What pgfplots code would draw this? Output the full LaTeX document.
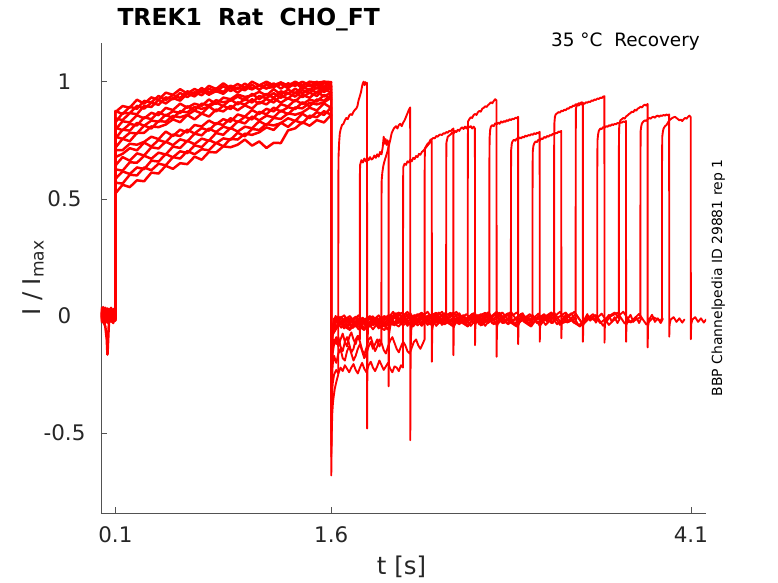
\documentclass[border=0pt]{standalone}
\usepackage{fontspec}
\setmainfont{DejaVu Sans}
\usepackage{pgfplots}
\usepackage{pgfplotstable}
\pgfplotsset{compat=1.18}
\definecolor{axgray}{rgb}{0.15,0.15,0.15}
\pgfplotstableread{
t a b c d e f g h i j k l m n o p
0.000 .010 -.015 .025 .000 -.020 .035 .005 -.010 .020 -.025 .015 -.005 .030 -.018 .008 .002
0.015 -.012 .020 -.005 .030 .010 -.022 .018 .038 -.008 .012 -.028 .025 -.002 .015 -.015 -.020
0.030 .022 -.008 .012 -.018 .035 .005 -.025 .010 .028 -.012 .018 -.030 .008 .032 .000 -.045
0.040 -.005 .015 -.020 .012 -.010 .028 .010 -.015 .002 .030 -.008 .015 -.022 .005 .025 -.100
0.045 .015 -.025 .030 -.005 .020 -.012 .032 .005 -.018 .010 .022 -.010 .012 -.028 .008 -.165
0.055 -.018 .010 .005 .025 -.022 .018 -.008 .030 .012 -.020 .002 .028 -.012 .018 -.025 -.030
0.070 .028 -.012 .018 -.025 .012 -.005 .022 -.018 .035 .005 -.020 .010 .025 -.008 .015 .020
0.085 -.008 .030 -.015 .010 .025 -.030 .005 .015 -.010 .022 .012 -.025 .000 .028 -.012 -.008
0.0995 .012 -.010 .022 -.012 .000 .015 -.020 .008 .025 -.015 .030 .005 -.018 .010 .020 .000
0.10 .870 .875 .826 .843 .795 .804 .757 .765 .718 .708 .678 .642 .626 .585 .569 .523
0.15 .896 .862 .866 .836 .831 .793 .795 .756 .756 .708 .692 .678 .620 .617 .565 .560
0.20 .889 .893 .866 .866 .826 .820 .791 .782 .746 .735 .716 .663 .656 .606 .603 .550
0.25 .923 .884 .897 .861 .857 .813 .824 .779 .781 .731 .707 .694 .654 .634 .600 .579
0.30 .906 .918 .885 .897 .843 .848 .812 .813 .782 .743 .740 .685 .684 .627 .634 .575
0.35 .933 .912 .910 .892 .867 .840 .834 .800 .809 .765 .723 .720 .671 .663 .622 .612
0.40 .922 .939 .901 .922 .857 .870 .829 .832 .806 .755 .751 .715 .697 .659 .650 .608
0.45 .953 .922 .933 .907 .888 .854 .859 .829 .817 .787 .741 .744 .689 .691 .643 .641
0.50 .944 .943 .925 .930 .879 .874 .844 .854 .839 .768 .774 .729 .723 .677 .678 .628
0.55 .968 .930 .952 .919 .906 .866 .874 .848 .827 .795 .768 .754 .717 .703 .672 .652
0.60 .949 .959 .934 .949 .889 .895 .869 .858 .858 .783 .795 .745 .748 .695 .704 .648
0.65 .969 .948 .955 .937 .906 .878 .892 .877 .839 .815 .779 .778 .733 .728 .690 .680
0.70 .954 .973 .942 .963 .897 .906 .884 .864 .864 .809 .802 .771 .757 .721 .712 .667
0.75 .982 .953 .970 .944 .924 .899 .893 .894 .851 .834 .791 .800 .748 .751 .707 .700
0.80 .969 .971 .957 .960 .905 .921 .911 .873 .881 .818 .823 .785 .781 .737 .739 .698
0.85 .993 .956 .981 .948 .932 .912 .896 .897 .873 .840 .815 .808 .773 .758 .724 .724
0.90 .972 .983 .960 .974 .925 .919 .925 .883 .897 .829 .844 .799 .803 .752 .756 .720
0.95 .990 .969 .975 .953 .945 .936 .903 .912 .878 .860 .827 .831 .787 .782 .753 .731
1.00 .974 .992 .963 .977 .935 .921 .926 .902 .899 .851 .850 .822 .808 .767 .778 .753
1.05 1.0 .970 .987 .967 .941 .948 .911 .925 .885 .879 .839 .851 .801 .798 .773 .727
1.10 .984 .983 .965 .985 .957 .925 .939 .906 .914 .862 .871 .835 .831 .794 .784 .745
1.15 1.0 .970 .989 .973 .941 .948 .929 .926 .903 .884 .861 .855 .815 .819 .805 .717
1.20 .984 .993 .978 .977 .968 .931 .951 .911 .929 .873 .889 .848 .845 .813 .794 .739
1.25 .997 .970 .995 .990 .945 .959 .931 .940 .910 .904 .872 .877 .841 .823 .825 .738
1.30 .983 .993 .983 .972 .966 .948 .951 .928 .929 .894 .891 .861 .865 .844 .807 .792
1.35 1.0 .982 .986 .996 .950 .970 .936 .954 .916 .922 .883 .890 .859 .832 .834 .801
1.40 .983 .999 .999 .970 .977 .950 .964 .934 .944 .904 .912 .886 .869 .863 .822 .827
1.45 1.0 .986 .980 .989 .965 .968 .952 .953 .931 .923 .895 .910 .889 .844 .855 .812
1.50 .995 .989 1.0 .970 .987 .953 .976 .939 .957 .915 .924 .903 .877 .870 .848 .836
1.55 1.0 1.0 .977 .994 .966 .980 .956 .967 .937 .943 .919 .912 .907 .858 .874 .826
1.60 .998 .982 .996 .980 .984 .968 .975 .954 .953 .926 .942 .932 .888 .890 .859 .859
}\first
\begin{document}
\begin{tikzpicture}
\path[use as bounding box] (-101bp,-70bp) rectangle (677bp,513bp);
\begin{axis}[
  name=ax,
  at={(0,0)}, anchor=south west,
  scale only axis, width=605bp, height=470bp,
  xmin=0, xmax=4.205, ymin=-0.8406, ymax=1.165,
  axis x line*=bottom, axis y line*=left,
  axis line style={-, draw=axgray!80, line width=0.6bp},
  tick style={draw=axgray!80, line width=0.6bp},
  tick align=inside, major tick length=6bp,
  xtick={0.1,1.6,4.1}, xticklabels={0.1,1.6,4.1},
  ytick={-0.5,0,0.5,1}, yticklabels={-0.5,0,0.5,1},
  tick label style={font=\fontsize{21.5}{24}\selectfont, text=axgray},
  xticklabel style={anchor=base, yshift=-29bp},
  yticklabel style={anchor=center, xshift=-36.5bp},
  xlabel={t [s]},
  xlabel style={at={(axis description cs:0.4967,0)}, anchor=base, yshift=-61bp, font=\fontsize{24.5}{28}\selectfont, text=axgray},
  ylabel={I / I\textsubscript{max}},
  ylabel style={at={(axis description cs:-0.1008,0.5)}, anchor=base, font=\fontsize{24.5}{28}\selectfont, text=axgray},
  tr/.style={draw=red, line width=1.9pt, line join=round, line cap=round, no markers},
  tf/.style={draw=red, line width=2.5pt, line join=round, line cap=round, no markers},
]
\addplot[tf] table[x=t,y=a]{\first};
\addplot[tf] table[x=t,y=b]{\first};
\addplot[tf] table[x=t,y=c]{\first};
\addplot[tf] table[x=t,y=d]{\first};
\addplot[tf] table[x=t,y=e]{\first};
\addplot[tf] table[x=t,y=f]{\first};
\addplot[tf] table[x=t,y=g]{\first};
\addplot[tf] table[x=t,y=h]{\first};
\addplot[tf] table[x=t,y=i]{\first};
\addplot[tf] table[x=t,y=j]{\first};
\addplot[tf] table[x=t,y=k]{\first};
\addplot[tf] table[x=t,y=l]{\first};
\addplot[tf] table[x=t,y=m]{\first};
\addplot[tf] table[x=t,y=n]{\first};
\addplot[tf] table[x=t,y=o]{\first};
\addplot[tf] table[x=t,y=p]{\first};
% A
\addplot[tr] coordinates {(1.6,0.998)(1.6005,-0.68)(1.603,-0.52)(1.607,-0.42)(1.612,-0.37)(1.618,-0.34)(1.625,-0.31)(1.632,-0.29)(1.64,-0.27)(1.649,-0.25)(1.6495,0.55)(1.651,0.68)(1.655,0.74)(1.66,0.78)(1.667,0.80)(1.675,0.815)(1.685,0.82)(1.695,0.835)(1.705,0.845)(1.715,0.84)(1.725,0.855)(1.735,0.862)(1.745,0.858)(1.755,0.872)(1.765,0.88)(1.775,0.886)(1.782,0.895)(1.79,0.92)(1.80,0.94)(1.807,0.955)(1.813,0.975)(1.818,0.99)(1.825,1.0)(1.832,0.985)(1.838,0.998)(1.843,0.99)(1.849,0.995)(1.8495,-0.48)(1.852,-0.12)(1.856,-0.05)(1.865,-0.035)(1.88,-0.01)(1.895,-0.04)(1.91,-0.015)(1.925,-0.03)(1.94,-0.005)(1.955,-0.025)};
% B
\addplot[tr] coordinates {(1.6,0.982)(1.6005,-0.45)(1.604,-0.25)(1.61,-0.16)(1.62,-0.12)(1.635,-0.09)(1.65,-0.13)(1.665,-0.10)(1.68,-0.075)(1.695,-0.11)(1.71,-0.13)(1.725,-0.09)(1.74,-0.07)(1.755,-0.10)(1.77,-0.12)(1.785,-0.085)(1.799,-0.10)(1.7995,0.60)(1.801,0.645)(1.81,0.665)(1.82,0.655)(1.83,0.672)(1.84,0.66)(1.85,0.675)(1.86,0.665)(1.87,0.678)(1.88,0.668)(1.89,0.672)(1.90,0.685)(1.91,0.675)(1.92,0.69)(1.93,0.68)(1.94,0.70)(1.95,0.69)(1.958,0.72)(1.965,0.765)(1.972,0.735)(1.978,0.755)(1.985,0.73)(1.992,0.75)(1.999,0.73)(1.9995,-0.30)(2.002,-0.08)(2.01,-0.045)(2.025,-0.02)(2.04,-0.04)(2.055,-0.01)(2.07,-0.03)(2.085,-0.015)(2.10,-0.03)(2.105,-0.02)};
% C
\addplot[tr] coordinates {(1.6,0.996)(1.6005,-0.55)(1.604,-0.30)(1.61,-0.21)(1.62,-0.17)(1.635,-0.20)(1.65,-0.16)(1.665,-0.14)(1.68,-0.18)(1.695,-0.19)(1.71,-0.15)(1.725,-0.13)(1.74,-0.16)(1.755,-0.19)(1.77,-0.17)(1.785,-0.14)(1.80,-0.12)(1.815,-0.15)(1.83,-0.18)(1.845,-0.16)(1.86,-0.13)(1.875,-0.11)(1.89,-0.14)(1.905,-0.12)(1.92,-0.10)(1.935,-0.13)(1.949,-0.11)(1.9495,0.50)(1.951,0.58)(1.955,0.61)(1.962,0.64)(1.97,0.66)(1.98,0.68)(1.99,0.70)(2.0,0.725)(2.01,0.75)(2.02,0.78)(2.035,0.80)(2.05,0.81)(2.06,0.80)(2.07,0.815)(2.08,0.82)(2.09,0.81)(2.10,0.825)(2.11,0.835)(2.12,0.85)(2.13,0.865)(2.14,0.88)(2.149,0.89)(2.1495,-0.53)(2.152,-0.15)(2.156,-0.06)(2.165,-0.03)(2.18,-0.01)(2.195,-0.035)(2.21,-0.015)(2.225,-0.04)(2.24,-0.02)(2.255,-0.01)};
% D
\addplot[tr] coordinates {(1.6,0.98)(1.6005,-0.60)(1.604,-0.38)(1.61,-0.29)(1.62,-0.25)(1.635,-0.23)(1.65,-0.245)(1.665,-0.22)(1.68,-0.235)(1.695,-0.21)(1.71,-0.225)(1.725,-0.24)(1.74,-0.22)(1.755,-0.205)(1.77,-0.23)(1.785,-0.245)(1.80,-0.22)(1.815,-0.20)(1.83,-0.225)(1.845,-0.24)(1.86,-0.21)(1.875,-0.195)(1.89,-0.22)(1.905,-0.235)(1.92,-0.215)(1.935,-0.19)(1.95,-0.21)(1.965,-0.23)(1.98,-0.215)(1.995,-0.20)(2.01,-0.225)(2.025,-0.24)(2.04,-0.215)(2.055,-0.22)(2.07,-0.235)(2.085,-0.21)(2.099,-0.22)(2.0995,0.55)(2.101,0.635)(2.11,0.65)(2.12,0.645)(2.13,0.66)(2.14,0.655)(2.15,0.668)(2.16,0.66)(2.17,0.675)(2.18,0.67)(2.19,0.683)(2.20,0.678)(2.21,0.692)(2.22,0.688)(2.23,0.70)(2.24,0.705)(2.25,0.712)(2.26,0.72)(2.27,0.728)(2.28,0.735)(2.29,0.745)(2.299,0.748)(2.2995,-0.195)(2.302,-0.06)(2.31,-0.03)(2.325,-0.01)(2.34,-0.035)(2.355,-0.015)(2.37,-0.03)(2.385,-0.005)(2.40,-0.025)(2.405,-0.02)};
% E
\addplot[tr] coordinates {(1.6,0.984)(1.6005,-0.40)(1.604,-0.22)(1.61,-0.14)(1.62,-0.10)(1.635,-0.12)(1.65,-0.09)(1.665,-0.13)(1.68,-0.15)(1.695,-0.11)(1.71,-0.09)(1.725,-0.12)(1.74,-0.155)(1.755,-0.14)(1.77,-0.10)(1.785,-0.085)(1.80,-0.11)(1.815,-0.145)(1.83,-0.165)(1.845,-0.135)(1.86,-0.10)(1.875,-0.09)(1.89,-0.12)(1.905,-0.15)(1.92,-0.13)(1.935,-0.10)(1.95,-0.115)(1.965,-0.145)(1.98,-0.16)(1.995,-0.13)(2.01,-0.105)(2.025,-0.09)(2.04,-0.115)(2.055,-0.14)(2.07,-0.155)(2.085,-0.13)(2.10,-0.11)(2.115,-0.125)(2.13,-0.15)(2.145,-0.16)(2.16,-0.135)(2.175,-0.11)(2.19,-0.10)(2.205,-0.125)(2.22,-0.14)(2.235,-0.12)(2.249,-0.10)(2.2495,0.60)(2.251,0.715)(2.26,0.725)(2.27,0.735)(2.28,0.74)(2.29,0.752)(2.30,0.755)(2.31,0.76)(2.32,0.758)(2.33,0.768)(2.34,0.765)(2.35,0.772)(2.36,0.775)(2.37,0.772)(2.38,0.78)(2.39,0.778)(2.40,0.785)(2.41,0.782)(2.42,0.79)(2.43,0.788)(2.44,0.795)(2.449,0.80)(2.4495,-0.167)(2.452,-0.05)(2.46,-0.025)(2.475,-0.01)(2.49,-0.03)(2.505,-0.005)(2.52,-0.025)(2.535,-0.015)(2.55,-0.02)(2.555,-0.01)};
% F
\addplot[tr] coordinates {(1.6,0.968)(1.6005,-0.35)(1.604,-0.15)(1.61,-0.07)(1.62,-0.055)(1.67,-0.030)(1.72,-0.007)(1.77,-0.045)(1.82,-0.020)(1.87,0.000)(1.92,-0.040)(1.97,-0.060)(2.02,0.000)(2.07,-0.018)(2.12,0.010)(2.17,-0.038)(2.22,-0.008)(2.27,0.018)(2.32,-0.028)(2.37,-0.012)(2.399,-0.02)(2.3995,0.65)(2.401,0.74)(2.41,0.765)(2.42,0.77)(2.43,0.775)(2.44,0.782)(2.45,0.778)(2.46,0.79)(2.47,0.785)(2.48,0.795)(2.49,0.79)(2.50,0.80)(2.51,0.805)(2.52,0.798)(2.53,0.808)(2.54,0.80)(2.55,0.812)(2.56,0.805)(2.57,0.81)(2.58,0.80)(2.59,0.808)(2.599,0.80)(2.5995,-0.124)(2.602,-0.04)(2.61,-0.02)(2.63,0.005)(2.65,-0.03)(2.67,-0.01)(2.69,-0.025)(2.705,-0.005)};
% G
\addplot[tr] coordinates {(1.6,0.975)(1.6005,-0.50)(1.604,-0.2)(1.61,-0.08)(1.63,-0.060)(1.68,-0.015)(1.73,-0.033)(1.78,-0.005)(1.83,-0.053)(1.88,-0.023)(1.93,0.003)(1.98,-0.043)(2.03,-0.012)(2.08,0.004)(2.13,-0.042)(2.18,-0.002)(2.23,0.014)(2.28,-0.032)(2.33,-0.020)(2.38,0.009)(2.43,-0.036)(2.48,-0.006)(2.53,-0.020)(2.549,-0.01)(2.5495,0.70)(2.551,0.83)(2.56,0.84)(2.57,0.848)(2.58,0.845)(2.59,0.858)(2.60,0.862)(2.61,0.858)(2.62,0.87)(2.63,0.875)(2.64,0.872)(2.65,0.885)(2.66,0.888)(2.67,0.895)(2.68,0.892)(2.69,0.90)(2.70,0.905)(2.71,0.912)(2.72,0.908)(2.73,0.918)(2.74,0.925)(2.749,0.92)(2.7495,-0.174)(2.752,-0.05)(2.76,-0.02)(2.78,-0.005)(2.80,-0.03)(2.82,-0.01)(2.84,-0.025)(2.855,-0.005)};
% H
\addplot[tr] coordinates {(1.6,0.954)(1.6005,-0.30)(1.604,-0.12)(1.61,-0.06)(1.64,-0.043)(1.69,-0.027)(1.74,-0.011)(1.79,-0.057)(1.84,-0.017)(1.89,-0.001)(1.94,-0.047)(1.99,-0.035)(2.04,0.009)(2.09,-0.036)(2.14,-0.006)(2.19,-0.020)(2.24,0.005)(2.29,-0.035)(2.34,-0.010)(2.39,0.012)(2.44,-0.040)(2.49,-0.015)(2.54,0.008)(2.59,-0.030)(2.64,-0.005)(2.69,0.015)(2.699,-0.01)(2.6995,0.65)(2.701,0.76)(2.705,0.795)(2.71,0.808)(2.72,0.815)(2.73,0.81)(2.74,0.822)(2.75,0.818)(2.76,0.825)(2.77,0.82)(2.78,0.83)(2.79,0.825)(2.80,0.832)(2.81,0.828)(2.82,0.836)(2.83,0.832)(2.84,0.84)(2.85,0.836)(2.86,0.842)(2.87,0.84)(2.88,0.846)(2.89,0.844)(2.899,0.85)(2.8995,-0.12)(2.902,-0.04)(2.91,-0.015)(2.93,0.005)(2.95,-0.025)(2.97,-0.01)(2.99,-0.03)(3.005,-0.01)};
% I
\addplot[tr] coordinates {(1.6,0.953)(1.6005,-0.25)(1.604,-0.10)(1.61,-0.05)(1.65,-0.035)(1.70,-0.006)(1.75,-0.051)(1.80,-0.021)(1.85,-0.035)(1.90,-0.010)(1.95,-0.050)(2.00,-0.010)(2.05,0.012)(2.10,-0.040)(2.15,-0.015)(2.20,0.008)(2.25,-0.030)(2.30,-0.005)(2.35,0.015)(2.40,-0.025)(2.45,-0.045)(2.50,0.000)(2.55,-0.018)(2.60,0.010)(2.65,-0.038)(2.70,-0.008)(2.75,0.018)(2.80,-0.028)(2.849,-0.01)(2.8495,0.60)(2.851,0.71)(2.855,0.735)(2.86,0.745)(2.87,0.752)(2.88,0.748)(2.89,0.758)(2.90,0.755)(2.91,0.762)(2.92,0.758)(2.93,0.765)(2.94,0.762)(2.95,0.77)(2.96,0.766)(2.97,0.772)(2.98,0.77)(2.99,0.776)(3.00,0.773)(3.01,0.78)(3.02,0.776)(3.03,0.782)(3.04,0.78)(3.049,0.786)(3.0495,-0.11)(3.052,-0.04)(3.06,-0.015)(3.08,0.005)(3.10,-0.025)(3.12,-0.005)(3.14,-0.03)(3.155,-0.01)};
% J
\addplot[tr] coordinates {(1.6,0.926)(1.6005,-0.30)(1.604,-0.12)(1.61,-0.06)(1.62,-0.025)(1.67,-0.003)(1.72,-0.055)(1.77,-0.030)(1.82,-0.007)(1.87,-0.045)(1.92,-0.020)(1.97,0.000)(2.02,-0.025)(2.07,-0.045)(2.12,0.000)(2.17,-0.018)(2.22,0.010)(2.27,-0.038)(2.32,-0.008)(2.37,0.018)(2.42,-0.028)(2.47,-0.012)(2.52,0.004)(2.57,-0.042)(2.62,-0.002)(2.67,0.014)(2.72,-0.032)(2.77,-0.020)(2.82,0.009)(2.87,-0.036)(2.92,-0.006)(2.97,-0.020)(2.999,-0.005)(2.9995,0.60)(3.001,0.70)(3.005,0.725)(3.01,0.735)(3.02,0.745)(3.03,0.742)(3.04,0.752)(3.05,0.748)(3.06,0.758)(3.07,0.755)(3.08,0.764)(3.09,0.76)(3.10,0.768)(3.11,0.765)(3.12,0.772)(3.13,0.77)(3.14,0.778)(3.15,0.775)(3.16,0.782)(3.17,0.78)(3.18,0.787)(3.19,0.785)(3.199,0.79)(3.1995,-0.095)(3.202,-0.035)(3.21,-0.015)(3.23,0.005)(3.25,-0.025)(3.27,-0.01)(3.29,-0.03)(3.305,-0.01)};
% K
\addplot[tr] coordinates {(1.6,0.942)(1.6005,-0.20)(1.604,-0.09)(1.61,-0.05)(1.63,0.000)(1.68,-0.040)(1.73,-0.060)(1.78,-0.015)(1.83,-0.033)(1.88,-0.005)(1.93,-0.053)(1.98,-0.023)(2.03,0.018)(2.08,-0.028)(2.13,-0.012)(2.18,0.004)(2.23,-0.042)(2.28,-0.002)(2.33,0.014)(2.38,-0.032)(2.43,-0.020)(2.48,0.009)(2.53,-0.036)(2.58,-0.006)(2.63,-0.020)(2.68,0.005)(2.73,-0.035)(2.78,-0.010)(2.83,0.012)(2.88,-0.040)(2.93,-0.015)(2.98,0.008)(3.03,-0.030)(3.08,-0.005)(3.13,0.015)(3.149,-0.01)(3.1495,0.70)(3.151,0.82)(3.155,0.85)(3.16,0.86)(3.17,0.865)(3.18,0.87)(3.19,0.868)(3.20,0.876)(3.21,0.874)(3.22,0.88)(3.23,0.878)(3.24,0.886)(3.25,0.884)(3.26,0.892)(3.27,0.89)(3.28,0.898)(3.29,0.896)(3.30,0.904)(3.31,0.902)(3.32,0.908)(3.33,0.906)(3.34,0.912)(3.349,0.91)(3.3495,-0.11)(3.352,-0.04)(3.36,-0.015)(3.38,0.008)(3.40,-0.02)(3.42,-0.005)(3.44,-0.028)(3.455,-0.01)};
% L
\addplot[tr] coordinates {(1.6,0.932)(1.6005,-0.25)(1.604,-0.10)(1.61,-0.05)(1.64,-0.023)(1.69,0.003)(1.74,-0.043)(1.79,-0.027)(1.84,-0.011)(1.89,-0.057)(1.94,-0.017)(1.99,-0.001)(2.04,-0.032)(2.09,-0.020)(2.14,0.009)(2.19,-0.036)(2.24,-0.006)(2.29,-0.020)(2.34,0.005)(2.39,-0.035)(2.44,-0.010)(2.49,0.012)(2.54,-0.040)(2.59,-0.015)(2.64,0.008)(2.69,-0.030)(2.74,-0.005)(2.79,0.015)(2.84,-0.025)(2.89,-0.045)(2.94,0.000)(2.99,-0.018)(3.04,0.010)(3.09,-0.038)(3.14,-0.008)(3.19,0.018)(3.24,-0.028)(3.29,-0.012)(3.299,-0.01)(3.2995,0.75)(3.301,0.885)(3.305,0.895)(3.31,0.90)(3.32,0.898)(3.33,0.905)(3.34,0.902)(3.35,0.908)(3.36,0.905)(3.37,0.912)(3.38,0.91)(3.39,0.915)(3.40,0.913)(3.41,0.92)(3.42,0.918)(3.43,0.924)(3.44,0.922)(3.45,0.928)(3.46,0.926)(3.47,0.932)(3.48,0.93)(3.49,0.936)(3.499,0.938)(3.4995,-0.114)(3.502,-0.04)(3.51,-0.015)(3.53,0.005)(3.55,-0.025)(3.57,-0.005)(3.59,-0.03)(3.605,-0.012)};
% M
\addplot[tr] coordinates {(1.6,0.888)(1.6005,-0.20)(1.604,-0.09)(1.61,-0.05)(1.65,-0.001)(1.70,-0.047)(1.75,-0.035)(1.80,-0.006)(1.85,-0.051)(1.90,-0.021)(1.95,-0.035)(2.00,0.005)(2.05,-0.035)(2.10,-0.010)(2.15,0.012)(2.20,-0.040)(2.25,-0.015)(2.30,0.008)(2.35,-0.030)(2.40,-0.005)(2.45,0.015)(2.50,-0.025)(2.55,-0.045)(2.60,0.000)(2.65,-0.018)(2.70,0.010)(2.75,-0.038)(2.80,-0.008)(2.85,0.018)(2.90,-0.028)(2.95,-0.012)(3.00,0.004)(3.05,-0.042)(3.10,-0.002)(3.15,0.014)(3.20,-0.032)(3.25,-0.020)(3.30,0.009)(3.35,-0.036)(3.40,-0.006)(3.449,-0.015)(3.4495,0.65)(3.451,0.75)(3.455,0.775)(3.46,0.79)(3.47,0.80)(3.48,0.798)(3.49,0.806)(3.50,0.803)(3.51,0.81)(3.52,0.807)(3.53,0.814)(3.54,0.811)(3.55,0.818)(3.56,0.815)(3.57,0.82)(3.58,0.818)(3.59,0.824)(3.60,0.821)(3.61,0.827)(3.62,0.825)(3.63,0.83)(3.64,0.828)(3.649,0.832)(3.6495,-0.11)(3.652,-0.04)(3.66,-0.015)(3.68,0.005)(3.70,-0.025)(3.72,-0.005)(3.74,-0.03)(3.755,-0.01)};
% N
\addplot[tr] coordinates {(1.6,0.89)(1.6005,-0.30)(1.604,-0.12)(1.61,-0.06)(1.62,-0.010)(1.67,-0.050)(1.72,-0.025)(1.77,-0.003)(1.82,-0.055)(1.87,-0.030)(1.92,-0.007)(1.97,-0.045)(2.02,-0.005)(2.07,0.015)(2.12,-0.025)(2.17,-0.045)(2.22,0.000)(2.27,-0.018)(2.32,0.010)(2.37,-0.038)(2.42,-0.008)(2.47,0.018)(2.52,-0.028)(2.57,-0.012)(2.62,0.004)(2.67,-0.042)(2.72,-0.002)(2.77,0.014)(2.82,-0.032)(2.87,-0.020)(2.92,0.009)(2.97,-0.036)(3.02,-0.006)(3.07,-0.020)(3.12,0.005)(3.17,-0.035)(3.22,-0.010)(3.27,0.012)(3.32,-0.040)(3.37,-0.015)(3.42,0.008)(3.47,-0.030)(3.52,-0.005)(3.57,0.015)(3.599,-0.01)(3.5995,0.70)(3.601,0.80)(3.605,0.825)(3.61,0.835)(3.62,0.84)(3.63,0.845)(3.64,0.842)(3.65,0.852)(3.66,0.856)(3.67,0.862)(3.68,0.866)(3.69,0.872)(3.70,0.87)(3.71,0.88)(3.72,0.876)(3.73,0.885)(3.74,0.888)(3.75,0.893)(3.76,0.89)(3.77,0.898)(3.78,0.902)(3.79,0.898)(3.799,0.905)(3.7995,-0.134)(3.802,-0.045)(3.81,-0.015)(3.83,0.005)(3.85,-0.025)(3.87,-0.01)(3.89,-0.03)(3.905,-0.012)};
% O
\addplot[tr] coordinates {(1.6,0.859)(1.6005,-0.15)(1.604,-0.08)(1.61,-0.05)(1.63,-0.045)(1.68,-0.020)(1.73,0.000)(1.78,-0.040)(1.83,-0.060)(1.88,-0.015)(1.93,-0.033)(1.98,-0.005)(2.03,-0.038)(2.08,-0.008)(2.13,0.018)(2.18,-0.028)(2.23,-0.012)(2.28,0.004)(2.33,-0.042)(2.38,-0.002)(2.43,0.014)(2.48,-0.032)(2.53,-0.020)(2.58,0.009)(2.63,-0.036)(2.68,-0.006)(2.73,-0.020)(2.78,0.005)(2.83,-0.035)(2.88,-0.010)(2.93,0.012)(2.98,-0.040)(3.03,-0.015)(3.08,0.008)(3.13,-0.030)(3.18,-0.005)(3.23,0.015)(3.28,-0.025)(3.33,-0.045)(3.38,0.000)(3.43,-0.018)(3.48,0.010)(3.53,-0.038)(3.58,-0.008)(3.63,0.018)(3.68,-0.028)(3.73,-0.012)(3.749,-0.005)(3.7495,0.68)(3.751,0.79)(3.755,0.81)(3.76,0.822)(3.77,0.83)(3.78,0.835)(3.79,0.832)(3.80,0.84)(3.81,0.845)(3.82,0.842)(3.83,0.848)(3.84,0.85)(3.85,0.846)(3.86,0.853)(3.87,0.855)(3.88,0.85)(3.89,0.856)(3.90,0.854)(3.91,0.858)(3.92,0.855)(3.93,0.86)(3.94,0.857)(3.949,0.86)(3.9495,-0.088)(3.952,-0.035)(3.96,-0.015)(3.98,-0.005)(4.00,-0.025)(4.02,-0.01)(4.04,-0.028)(4.055,-0.015)};
% P
\addplot[tr] coordinates {(1.6,0.859)(1.6005,-0.20)(1.604,-0.09)(1.61,-0.05)(1.64,-0.005)(1.69,-0.053)(1.74,-0.023)(1.79,0.003)(1.84,-0.043)(1.89,-0.027)(1.94,-0.011)(1.99,-0.057)(2.04,-0.002)(2.09,0.014)(2.14,-0.032)(2.19,-0.020)(2.24,0.009)(2.29,-0.036)(2.34,-0.006)(2.39,-0.020)(2.44,0.005)(2.49,-0.035)(2.54,-0.010)(2.59,0.012)(2.64,-0.040)(2.69,-0.015)(2.74,0.008)(2.79,-0.030)(2.84,-0.005)(2.89,0.015)(2.94,-0.025)(2.99,-0.045)(3.04,0.000)(3.09,-0.018)(3.14,0.010)(3.19,-0.038)(3.24,-0.008)(3.29,0.018)(3.34,-0.028)(3.39,-0.012)(3.44,0.004)(3.49,-0.042)(3.54,-0.002)(3.59,0.014)(3.64,-0.032)(3.69,-0.020)(3.74,0.009)(3.79,-0.036)(3.84,-0.006)(3.89,-0.020)(3.899,-0.01)(3.8995,0.66)(3.901,0.765)(3.905,0.785)(3.91,0.80)(3.92,0.81)(3.93,0.815)(3.94,0.825)(3.95,0.835)(3.96,0.84)(3.97,0.845)(3.98,0.848)(3.99,0.85)(4.00,0.845)(4.01,0.84)(4.02,0.835)(4.03,0.838)(4.04,0.832)(4.05,0.84)(4.06,0.845)(4.07,0.842)(4.08,0.85)(4.09,0.855)(4.099,0.848)(4.0995,-0.099)(4.102,-0.035)(4.11,-0.015)(4.13,-0.005)(4.15,-0.025)(4.17,-0.01)(4.19,-0.028)(4.205,-0.015)};
\end{axis}
\node[anchor=base west, font=\bfseries\fontsize{23.5}{28}\selectfont] at ([xshift=13bp, yshift=17.3bp]ax.north west) {TREK1\ \ Rat\ \ CHO\_FT};
\node[anchor=base east, font=\fontsize{18.5}{22}\selectfont] at ([xshift=-2.7bp, yshift=-3.4bp]ax.north east) {35 °C\ \ Recovery};
\node[rotate=90, anchor=base, font=\fontsize{14}{16}\selectfont] at ([xshift=16bp]ax.east) {BBP Channelpedia ID 29881 rep 1};
\end{tikzpicture}
\end{document}
